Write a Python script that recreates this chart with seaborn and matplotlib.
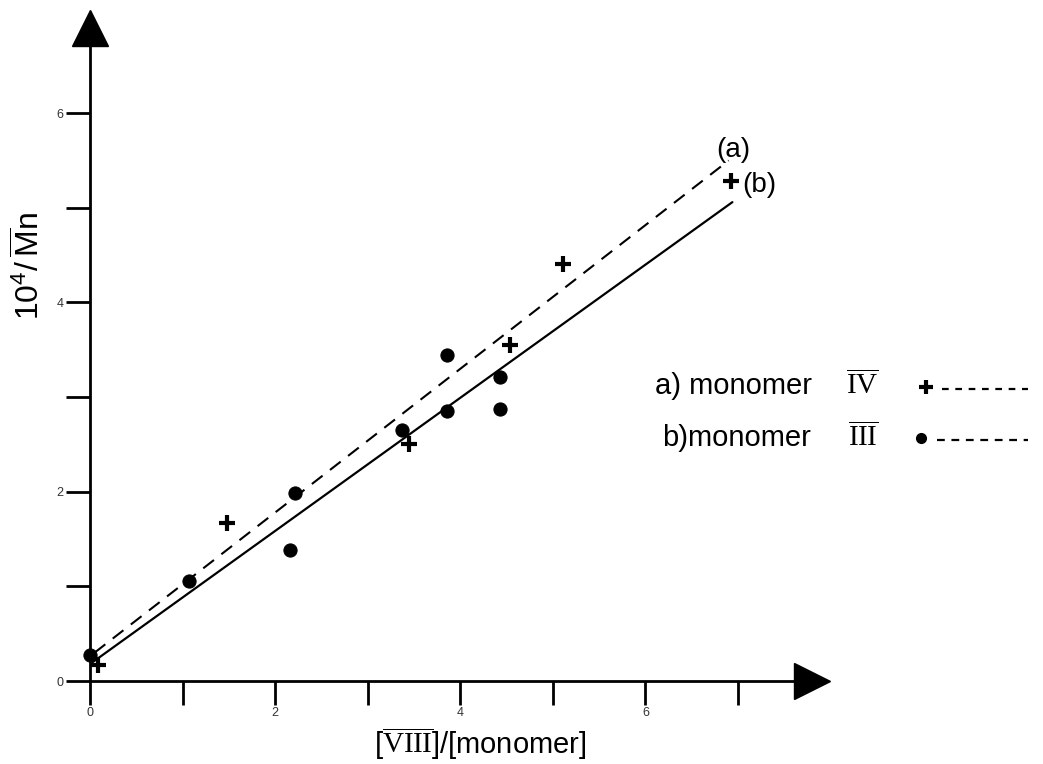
import matplotlib
matplotlib.use("Agg")
import matplotlib.pyplot as plt
import seaborn as sns
from matplotlib.lines import Line2D

# monomer IV (crosses) and monomer III (dots)
cross_x = [0.09, 1.48, 3.45, 4.54, 5.11, 6.93]
cross_y = [0.17, 1.67, 2.50, 3.55, 4.41, 5.28]
dot_x = [0.00, 1.07, 2.16, 2.22, 3.37, 3.86, 3.86, 4.43, 4.43]
dot_y = [0.28, 1.06, 1.38, 1.99, 2.65, 2.85, 3.44, 2.87, 3.21]

# fitted lines (a) dashed, (b) solid
line_a_x = [0.05, 6.90]
line_a_y = [0.30, 5.50]
line_b_x = [0.03, 6.94]
line_b_y = [0.20, 5.06]

x_ticks = [0, 1, 2, 3, 4, 5, 6, 7]
x_ticklabels = ["0", "", "2", "", "4", "", "6", ""]
y_ticks = [0, 1, 2, 3, 4, 5, 6]
y_ticklabels = ["0", "", "2", "", "4", "", "6"]

sns.set_theme(style="white")
plt.rcParams["font.family"] = ["Liberation Sans", "DejaVu Sans"]
plt.rcParams["mathtext.fontset"] = "custom"
plt.rcParams["mathtext.rm"] = "Liberation Serif"
plt.rcParams["mathtext.sf"] = "Liberation Sans"
plt.rcParams["text.color"] = "black"
plt.rcParams["axes.labelcolor"] = "black"

W, H = 1043, 764
fig = plt.figure(figsize=(W / 100, H / 100), dpi=100)
ax = fig.add_axes([90 / W, (H - 681) / H, 722 / W, 653 / H])

sns.lineplot(x=line_a_x, y=line_a_y, ax=ax, color="black", lw=1.5,
             linestyle=(0, (6.5, 4.5)))
sns.lineplot(x=line_b_x, y=line_b_y, ax=ax, color="black", lw=1.6)
ax.plot(cross_x, cross_y, linestyle="none", marker="+", color="black",
        markersize=12, markeredgewidth=3, clip_on=False)
sns.scatterplot(x=dot_x, y=dot_y, ax=ax, color="black", s=90,
                edgecolor="black", clip_on=False)

ax.set_xlim(0, 7.8)
ax.set_ylim(0, 6.9)
for s in ["top", "right"]:
    ax.spines[s].set_visible(False)
for s in ["left", "bottom"]:
    ax.spines[s].set_linewidth(2)
    ax.spines[s].set_color("black")

# arrow heads on the axes
ax.plot(1, 0, ">", color="black", markersize=26, transform=ax.get_yaxis_transform(), clip_on=False)
ax.plot(0, 1, "^", color="black", markersize=26, transform=ax.get_xaxis_transform(), clip_on=False)

ax.set_xticks(x_ticks)
ax.set_xticklabels(x_ticklabels, fontsize=9, color="#333333")
ax.set_yticks(y_ticks)
ax.set_yticklabels(y_ticklabels, fontsize=9, color="#333333")
ax.tick_params(axis="both", direction="out", length=17, width=2, color="black", pad=2,
               left=True, bottom=True)

ax.set_ylabel(r"$\mathsf{10}^{\mathsf{4}}\mathsf{/\,\overline{M}n}$", fontsize=23)
ax.yaxis.set_label_coords(-0.06, 0.635)
ax.set_xlabel(r"[$\overline{\mathrm{VIII}}$]/[monomer]", fontsize=21)
ax.xaxis.set_label_coords(0.54, -0.068)

ax.text(line_a_x[1] + 0.05, line_a_y[1] + 0.11, "(a)", fontsize=20, ha="center", va="center")
ax.text(line_b_x[1] + 0.29, line_b_y[1] + 0.18, "(b)", fontsize=20, ha="center", va="center")

# hand drawn key on the right
def fx(px):
    return px / W

def fy(py):
    return 1 - py / H

fig.text(fx(655), fy(386), "a) monomer", fontsize=21, va="center")
fig.text(fx(862), fy(386), r"$\overline{\mathrm{IV}}$", fontsize=21, va="center", ha="center")
fig.add_artist(Line2D([fx(926)], [fy(387)], marker="+", color="black",
                      markersize=10, markeredgewidth=3, transform=fig.transFigure))
fig.add_artist(Line2D([fx(942), fx(1028)], [fy(389), fy(389)], color="black", lw=1.6,
                      linestyle=(0, (3, 3)), transform=fig.transFigure))

fig.text(fx(662), fy(438), "b)monomer", fontsize=21, va="center")
fig.text(fx(863), fy(438), r"$\overline{\mathrm{III}}$", fontsize=21, va="center", ha="center")
fig.add_artist(Line2D([fx(921)], [fy(438)], marker="o", color="black",
                      markersize=7, transform=fig.transFigure))
fig.add_artist(Line2D([fx(937), fx(1028)], [fy(440), fy(440)], color="black", lw=1.6,
                      linestyle=(0, (3.5, 3)), transform=fig.transFigure))

fig.savefig("out.png", dpi=100)
